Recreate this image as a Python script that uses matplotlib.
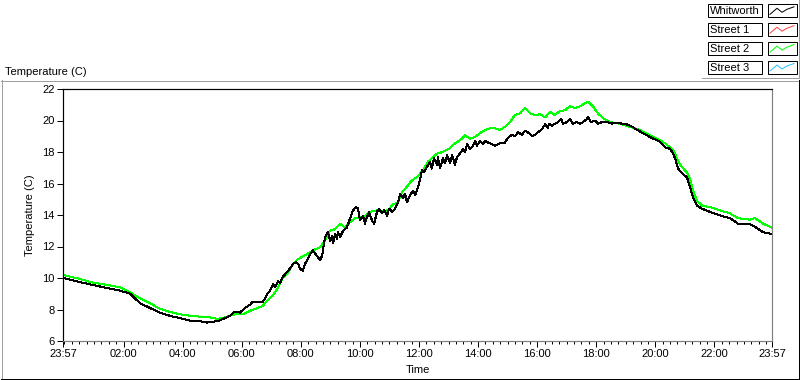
import matplotlib
matplotlib.use("Agg")
import matplotlib.pyplot as plt
import matplotlib.patches as patches
from matplotlib.lines import Line2D

plt.rcParams['font.family'] = ['Liberation Sans', 'DejaVu Sans']

# --- data: hours since midnight (23:57 start = -0.05), temperature in C ---
whit_t = [-0.05, 0.50, 0.97, 1.50, 1.88, 2.22, 2.56, 2.89, 3.23, 3.57, 3.91, 4.25,
          4.59, 4.82, 5.20, 5.43, 5.60, 5.77, 5.94, 6.11, 6.28, 6.35, 6.55, 6.69,
          6.79, 6.86, 6.96, 7.06, 7.13, 7.23, 7.30, 7.40, 7.50, 7.57, 7.67, 7.74,
          7.84, 7.91, 7.97, 8.07, 8.14, 8.24, 8.31, 8.41, 8.51, 8.65, 8.72, 8.82,
          8.92, 8.99, 9.06, 9.09, 9.16, 9.22, 9.26, 9.33, 9.43, 9.56, 9.67, 9.77,
          9.87, 9.94, 10.00, 10.11, 10.17, 10.24, 10.31, 10.41, 10.48, 10.58, 10.65,
          10.75, 10.82, 10.92, 10.99, 11.09, 11.19, 11.29, 11.36, 11.46, 11.53,
          11.59, 11.70, 11.80, 11.87, 11.93, 12.03, 12.10, 12.17, 12.27, 12.37,
          12.44, 12.51, 12.61, 12.64, 12.71, 12.81, 12.88, 12.95, 13.05, 13.12,
          13.22, 13.29, 13.39, 13.49, 13.56, 13.63, 13.73, 13.83, 13.90, 13.96,
          14.07, 14.17, 14.24, 14.34, 14.47, 14.57, 14.68, 14.81, 14.91, 15.01,
          15.15, 15.25, 15.35, 15.49, 15.59, 15.69, 15.83, 15.93, 16.03, 16.16,
          16.27, 16.37, 16.40, 16.50, 16.60, 16.71, 16.81, 16.88, 17.01, 17.11,
          17.21, 17.35, 17.45, 17.55, 17.69, 17.72, 17.82, 17.96, 18.06, 18.20,
          18.36, 18.53, 18.70, 19.04, 19.21, 19.48, 19.82, 20.16, 20.33, 20.50,
          20.60, 20.67, 20.77, 20.90, 21.07, 21.17, 21.28, 21.41, 21.58, 21.85,
          22.19, 22.53, 22.80, 23.21, 23.37, 23.65, 23.95]
whit_v = [10.0, 9.75, 9.55, 9.35, 9.2, 9.0, 8.4, 8.1, 7.8, 7.6, 7.45, 7.3,
          7.25, 7.17, 7.27, 7.45, 7.6, 7.87, 7.8, 8.1, 8.3, 8.45, 8.5, 8.45,
          8.7, 9.0, 9.2, 9.6, 9.4, 9.8, 9.7, 10.1, 10.3, 10.45, 10.7, 10.9,
          11.0, 10.9, 10.6, 10.45, 10.9, 11.2, 11.5, 11.75, 11.5, 11.15, 11.4, 12.6,
          12.9, 12.35, 12.65, 12.2, 12.8, 12.5, 12.9, 12.6, 13.0, 13.2, 13.8, 14.3,
          14.5, 14.4, 13.65, 13.95, 13.45, 13.85, 14.2, 13.65, 13.45, 14.2, 14.4,
          14.1, 14.3, 13.95, 14.4, 14.2, 14.4, 14.8, 15.35, 15.05, 15.35,
          14.8, 15.25, 15.55, 15.25, 15.55, 16.2, 16.85, 16.75, 17.05, 17.35,
          16.95, 17.6, 17.2, 17.7, 16.95, 17.6, 17.3, 17.8, 17.3, 17.8,
          17.2, 17.7, 17.9, 18.2, 18.0, 18.5, 18.2, 18.4, 18.7, 18.4,
          18.7, 18.5, 18.7, 18.6, 18.5, 18.4, 18.5, 18.6, 18.6, 18.9,
          19.1, 19.0, 19.25, 19.1, 19.35, 19.25, 19.0, 19.1, 19.25, 19.45,
          19.75, 19.55, 19.8, 19.65, 19.8, 19.9, 20.1, 19.8, 19.9, 20.1,
          19.8, 19.9, 19.8, 19.9, 20.1, 20.25, 19.9, 20.0, 19.8, 19.9,
          19.9, 19.8, 19.85, 19.75, 19.6, 19.3, 18.95, 18.65, 18.3, 18.2,
          17.9, 17.6, 16.95, 16.65, 16.4, 15.8, 15.1, 14.6, 14.4, 14.2,
          13.97, 13.8, 13.45, 13.4, 13.25, 12.9, 12.8]

st2_t = [-0.05, 0.50, 0.97, 1.50, 1.88, 2.22, 2.56, 2.89, 3.23, 3.57, 3.91, 4.25,
         4.59, 4.93, 5.20, 5.43, 5.77, 6.11, 6.35, 6.69, 6.86, 7.06, 7.23, 7.40,
         7.57, 7.74, 7.91, 8.24, 8.41, 8.65, 8.82, 8.99, 9.16, 9.33, 9.50, 9.67,
         9.83, 10.17, 10.34, 10.61, 10.78, 10.95, 11.12, 11.29, 11.43, 11.59,
         11.76, 11.93, 12.14, 12.31, 12.61, 12.81, 13.05, 13.22, 13.39, 13.56,
         13.73, 13.90, 14.07, 14.24, 14.40, 14.57, 14.74, 14.91, 15.08, 15.25,
         15.42, 15.59, 15.76, 15.93, 16.10, 16.27, 16.44, 16.60, 16.77, 16.94,
         17.11, 17.28, 17.45, 17.62, 17.72, 17.89, 18.06, 18.23, 18.47, 18.80,
         19.14, 19.48, 19.82, 20.16, 20.33, 20.50, 20.60, 20.67, 20.77, 20.90,
         21.07, 21.17, 21.28, 21.41, 21.58, 21.85, 22.19, 22.53, 22.80, 23.21,
         23.37, 23.65, 23.95]
st2_v = [10.2, 9.95, 9.7, 9.55, 9.4, 9.1, 8.7, 8.4, 8.05, 7.85, 7.7, 7.6,
         7.55, 7.5, 7.4, 7.5, 7.7, 7.75, 7.97, 8.2, 8.55, 8.9, 9.4, 10.04,
         10.35, 10.9, 11.2, 11.55, 11.75, 11.95, 12.4, 13.0, 13.1, 13.45, 13.2, 13.55,
         13.8, 13.9, 14.2, 14.3, 14.25, 14.3, 14.67, 14.8, 15.45, 15.8,
         16.2, 16.4, 16.85, 17.4, 17.9, 18.0, 18.25, 18.55, 18.75, 19.05,
         18.85, 18.95, 19.2, 19.4, 19.5, 19.5, 19.4, 19.6, 19.9, 20.35,
         20.45, 20.8, 20.45, 20.35, 20.4, 20.2, 20.55, 20.35, 20.6, 20.65,
         20.9, 20.8, 20.9, 21.1, 21.2, 20.9, 20.45, 20.15, 19.9, 19.8,
         19.6, 19.4, 19.05, 18.75, 18.55, 18.3, 18.1, 17.9, 17.4, 17.05,
         16.7, 16.3, 15.55, 14.9, 14.6, 14.5, 14.3, 14.1, 13.8, 13.7,
         13.8, 13.45, 13.2]

major_ticks = [-0.05, 2, 4, 6, 8, 10, 12, 14, 16, 18, 20, 22, 23.95]
major_labels = ["23:57", "02:00", "04:00", "06:00", "08:00", "10:00", "12:00",
                "14:00", "16:00", "18:00", "20:00", "22:00", "23:57"]
y_ticks = [6, 8, 10, 12, 14, 16, 18, 20, 22]

legend_names = ["Whitworth", "Street 1", "Street 2", "Street 3"]
legend_colors = ["#000000", "#ff4040", "#00ff00", "#30bfff"]

W, H = 800, 380
PX = 0.72  # one pixel in points at 100 dpi
fig = plt.figure(figsize=(8, 3.8), dpi=100)
fig.patch.set_facecolor('white')

def fx(px):
    return px / W

def fy(py):
    return 1 - py / H

ax = fig.add_axes([fx(63), fy(341), fx(772) - fx(63), fy(89) - fy(341)])
ax.plot(st2_t, st2_v, color=legend_colors[2], lw=PX, antialiased=False)
ax.plot(whit_t, whit_v, color=legend_colors[0], lw=PX, antialiased=False)

ax.set_xlim(-0.05, 23.95)
ax.set_ylim(6, 22)
ax.set_xticks(major_ticks)
ax.set_xticklabels(major_labels)
# quarter-hour minor ticks, 00:00 included (gives the double tick at the start)
ax.set_xticks([m / 4 for m in range(96) if m == 0 or m % 8 != 0], minor=True)
ax.set_yticks(y_ticks)
ax.tick_params(axis='both', which='major', direction='out', length=4, width=PX,
               labelsize=8, pad=2)
ax.tick_params(axis='x', which='minor', direction='out', length=2.5, width=PX)
ax.set_xlabel("Time", fontsize=8, labelpad=4)
ax.set_ylabel("Temperature (C)", fontsize=8, labelpad=5)

for side in ['left', 'top']:
    ax.spines[side].set_color('black')
for side in ['right', 'bottom']:
    ax.spines[side].set_color('#808080')
for s in ax.spines.values():
    s.set_linewidth(PX * 1.2)

fig.text(fx(5), fy(72), "Temperature (C)", fontsize=8, ha='left', va='center')

# outer frame
def fline(x0, y0, x1, y1, c):
    fig.add_artist(Line2D([fx(x0), fx(x1)], [fy(y0), fy(y1)], color=c, lw=PX,
                          transform=fig.transFigure, antialiased=False))

fline(1, 80.5, 799, 80.5, '#a0a0a0')
fline(1.5, 80, 1.5, 379, '#a0a0a0')
fline(1, 378.5, 799, 378.5, 'black')
fline(798.5, 80, 798.5, 379, 'black')

# legend block
fline(702, 77.5, 799, 77.5, '#a0a0a0')
fline(799, 0, 799, 78, '#a0a0a0')
for i, (name, col) in enumerate(zip(legend_names, legend_colors)):
    top = 4.3 + i * 18.9
    box = patches.Rectangle((fx(708), fy(top + 13)), fx(762) - fx(708), fy(top) - fy(top + 13),
                            transform=fig.transFigure, facecolor='white',
                            edgecolor='black', lw=PX)
    fig.add_artist(box)
    fig.text(fx(710), fy(top + 6.8), name, fontsize=8, ha='left', va='center')
    sw = patches.Rectangle((fx(768), fy(top + 13)), fx(797) - fx(768), fy(top) - fy(top + 13),
                           transform=fig.transFigure, facecolor='white',
                           edgecolor='black', lw=PX)
    fig.add_artist(sw)
    zx = [770, 777, 782, 787, 794]
    zy = [top + 10, top + 4, top + 8, top + 5, top + 2.5]
    fig.add_artist(Line2D([fx(x) for x in zx], [fy(y) for y in zy], color=col, lw=PX,
                          transform=fig.transFigure))

fig.savefig("out.png", dpi=100)
